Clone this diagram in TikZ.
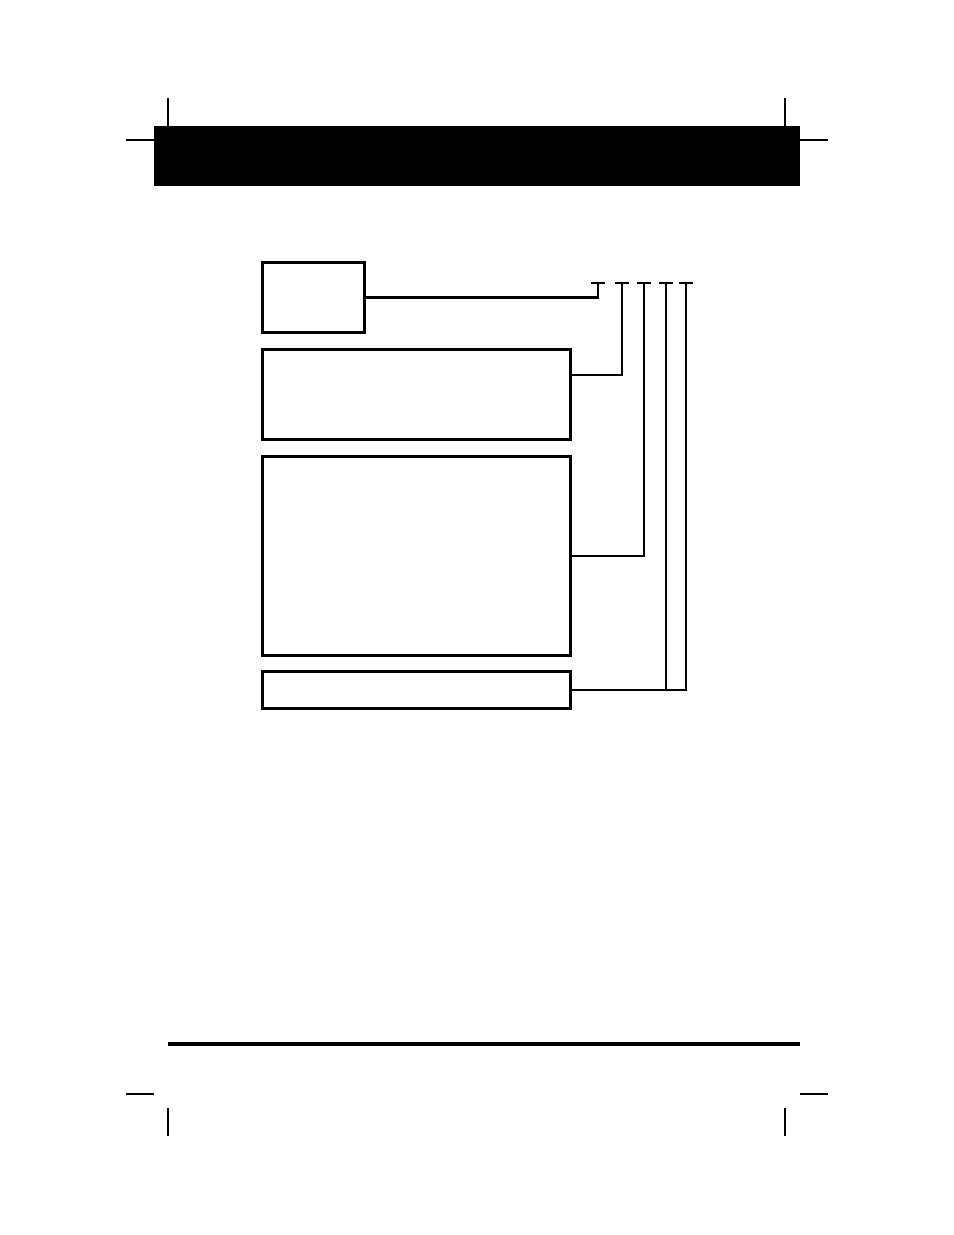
\documentclass[tikz,border=0pt]{standalone}
\usetikzlibrary{positioning}
\newcommand{\pxu}{0.6415pt}

\begin{document}
\begin{tikzpicture}[x=\pxu, y=-\pxu,
    field/.style={draw, rectangle, line width=1.9pt, anchor=north west, inner sep=0pt, minimum width=308*\pxu},
    lead/.style={line width=0.7pt},
    crop/.style={line width=0.7pt}
    ]
    \useasboundingbox (0,0) rectangle (954,1235);

    % header bar and footer rule
    \node[fill, anchor=north west, inner sep=0pt, minimum width=646*\pxu, minimum height=60*\pxu] (header) at (154,126) {};
    \draw[line width=2pt] (168,1044) -- (800,1044);

    % crop marks
    \draw[crop] (168,98) -- (168,126) (126,140) -- (154,140);
    \draw[crop] (785,98) -- (785,126) (800,140) -- (828,140);
    \draw[crop] (168,1108) -- (168,1136) (126,1094) -- (154,1094);
    \draw[crop] (785,1108) -- (785,1136) (800,1094) -- (828,1094);

    % boxes
    \node[field, minimum width=102*\pxu, minimum height=70*\pxu] (prefix) at (261,261) {};
    \node[field, minimum height=90*\pxu] (series) at (261,348) {};
    \node[field, minimum height=199*\pxu] (config) at (261,455) {};
    \node[field, minimum height=37*\pxu] (suffix) at (261,670) {};

    % ticks
    \foreach \t/\x in {t1/598,t2/622,t3/644,t4/666,t5/686} {
      \coordinate (\t) at (\x,283);
      \draw[lead] ([xshift=-7*\pxu]\t) -- ([xshift=7*\pxu]\t);
    };

    \draw[line width=1.3pt] (prefix.east) -| (t1);
    \draw[lead] ([yshift=12.5pt]series.east) -| (t2);
    \draw[lead] (config.east) -| (t3);
    \foreach \t in {t4,t5} {
      \draw[lead] (suffix.east) -| (\t);
    };
\end{tikzpicture}
\end{document}
